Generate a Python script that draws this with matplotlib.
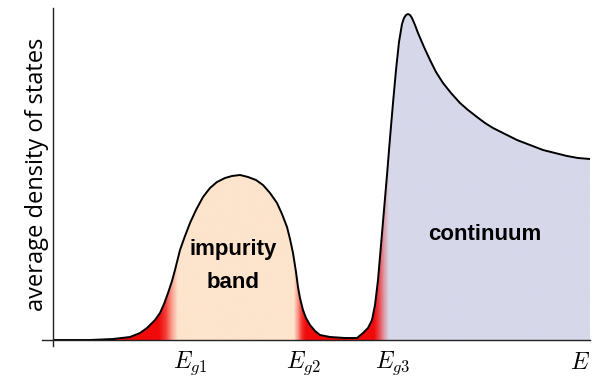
import numpy as np
import matplotlib
matplotlib.use("Agg")
import matplotlib.pyplot as plt
from matplotlib.colors import to_rgb

plt.rcParams['mathtext.fontset'] = 'cm'

# impurity band (energy, density) in arbitrary units
band_E = [0, 37, 60, 77, 87, 94, 102, 107, 111, 115, 119, 122, 127, 132, 137,
          143, 150, 157, 164, 172, 179, 187, 195, 203, 210, 217, 224, 229, 234,
          237, 240, 243, 245, 247, 250, 253, 257, 262, 267, 277, 292]
band_dos = [0, 0, 1, 3, 7, 12, 20, 27, 36, 47, 59, 70, 90, 104, 117,
            130, 143, 152, 158, 162, 164, 165, 163, 160, 155, 147, 137, 126, 113,
            101, 87, 68, 53, 42, 30, 22, 15, 9, 5, 3, 2]

# continuum (energy, density)
cont_E = [292, 304, 310, 315, 319, 322, 325, 328, 331, 334, 337, 340, 343, 346,
          349, 351, 353, 355, 357, 359, 362, 365, 371, 377, 383, 390, 398, 407,
          415, 424, 432, 440, 452, 464, 477, 490, 502, 514, 525, 537]
cont_dos = [2, 2, 7, 12, 20, 35, 60, 95, 130, 165, 202, 237, 270, 298,
            316, 322, 325, 326, 325, 322, 315, 307, 293, 280, 268, 257, 247, 237,
            230, 223, 217, 212, 206, 200, 195, 190, 187, 184, 182, 181]

tick_pos = [137, 250, 339, 527]
tick_labels = [r'$E_{g1}$', r'$E_{g2}$', r'$E_{g3}$', r'$E$']

peach = to_rgb('#fde4cc')
lavender = to_rgb('#d6d8ea')
red = to_rgb('#f00a0a')

fig = plt.figure(figsize=(5.95, 3.79), dpi=100)
ax = fig.add_axes([53 / 595, 39 / 379, 537 / 595, 332 / 379])
ax.set_xlim(0, 537)
ax.set_ylim(0, 332)


def gradient_fill(E, dos, base, xp, wp):
    poly = ax.fill_between(E, 0, dos, facecolor='none', edgecolor='none')
    xs = np.linspace(E[0], E[-1], 800)
    w = np.interp(xs, xp, wp)[:, None]
    rgb = (1 - w) * np.array(base) + w * np.array(red)
    im = ax.imshow(rgb[None, :, :], extent=(E[0], E[-1], 0, max(dos)),
                   aspect='auto', origin='lower', interpolation='bilinear',
                   zorder=1)
    im.set_clip_path(poly.get_paths()[0], transform=ax.transData)


gradient_fill(band_E, band_dos, peach,
              [0, 106, 113, 119, 125, 241, 245, 249, 253, 292],
              [1, 1, 0.75, 0.3, 0, 0, 0.35, 0.8, 1, 1])
gradient_fill(cont_E, cont_dos, lavender,
              [292, 321, 326, 331, 336, 537],
              [1, 1, 0.7, 0.3, 0, 0])

ax.plot(band_E, band_dos, color='black', lw=1.4, zorder=3)
ax.plot(cont_E, cont_dos, color='black', lw=1.4, zorder=3)

for s in ax.spines.values():
    s.set_visible(False)
ax.plot([-11 / 537, 1], [0, 0], transform=ax.transAxes, color='#222222',
        lw=1.0, clip_on=False, zorder=4)
ax.plot([0, 0], [-6 / 332, 1], transform=ax.transAxes, color='#222222',
        lw=1.0, clip_on=False, zorder=4)

ax.set_yticks([])
ax.set_xticks(tick_pos)
ax.set_xticklabels(tick_labels, fontsize=17)
ax.tick_params(axis='x', length=0, pad=7)

ax.set_ylabel('average density of states', family='Open Sans', fontsize=17,
              labelpad=3)

ax.text(180, 74, 'impurity\nband', ha='center', va='center', fontsize=16,
        fontweight='bold', family='Liberation Sans', linespacing=1.7, zorder=5)
ax.text(432, 105, 'continuum', ha='center', va='center', fontsize=16,
        fontweight='bold', family='Liberation Sans', zorder=5)

fig.savefig('out.png', dpi=100)
